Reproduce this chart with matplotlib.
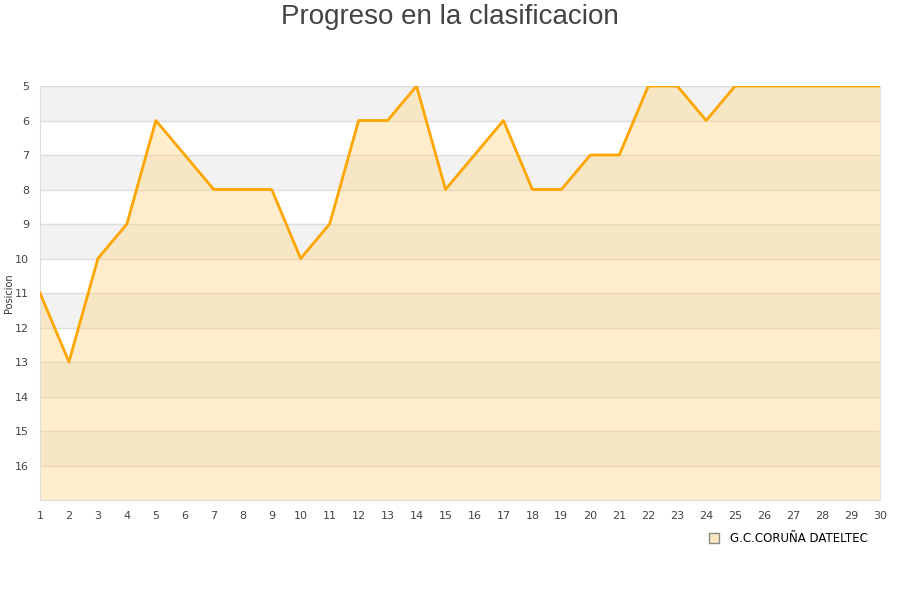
import matplotlib.pyplot as plt
from matplotlib.lines import Line2D

# jornada / posicion
jornadas = list(range(1, 31))
posiciones = [11, 13, 10, 9, 6, 7, 8, 8, 8, 10, 9, 6, 6, 5, 8, 7, 6, 8, 8, 7,
              7, 5, 5, 6, 5, 5, 5, 5, 5, 5]
y_ticks = list(range(5, 17))
equipo = 'G.C.CORUÑA DATELTEC'

fig = plt.figure(figsize=(9, 6), dpi=100)
ax = fig.add_axes([40 / 900, 100 / 600, 840 / 900, 414 / 600])

# bandas alternas
for y0 in range(5, 17, 2):
    ax.axhspan(y0, y0 + 1, color='#f2f2f2', zorder=0, lw=0)
for y in y_ticks:
    ax.axhline(y, color='#dddddd', lw=1, zorder=1)

ax.fill_between(jornadas, posiciones, 17, color='#ffd480', alpha=0.4, lw=0, zorder=2)
ax.plot(jornadas, posiciones, color='#ffa500', lw=2, zorder=3)

ax.set_xlim(1, 30)
ax.set_ylim(17, 5)
ax.set_xticks(jornadas)
ax.set_yticks(y_ticks)
ax.tick_params(length=0, labelsize=8, colors='#444444')
ax.tick_params(axis='x', pad=8)
ax.tick_params(axis='y', pad=8)
ax.spines['top'].set_visible(False)
for s in ['left', 'bottom']:
    ax.spines[s].set_color('#dddddd')
ax.spines['right'].set_color('#e6e6e6')

fig.text(9 / 900, 1 - 293 / 600, 'Posicion', rotation=90, ha='center', va='center',
         fontsize=7, color='#333333')
fig.text(0.5, 0.993, 'Progreso en la clasificacion', ha='center', va='top',
         fontsize=20, color='#444444', family='Liberation Sans')

legend_elements = [Line2D([0], [0], marker='s', color='none', markerfacecolor='#fde6bd',
                          markeredgecolor='#888888', markersize=7, label=equipo)]
fig.legend(handles=legend_elements, loc='center', bbox_to_anchor=(785 / 900, 1 - 539 / 600),
           frameon=False, fontsize=8.5, handletextpad=0.3)

fig.savefig('out.png')
